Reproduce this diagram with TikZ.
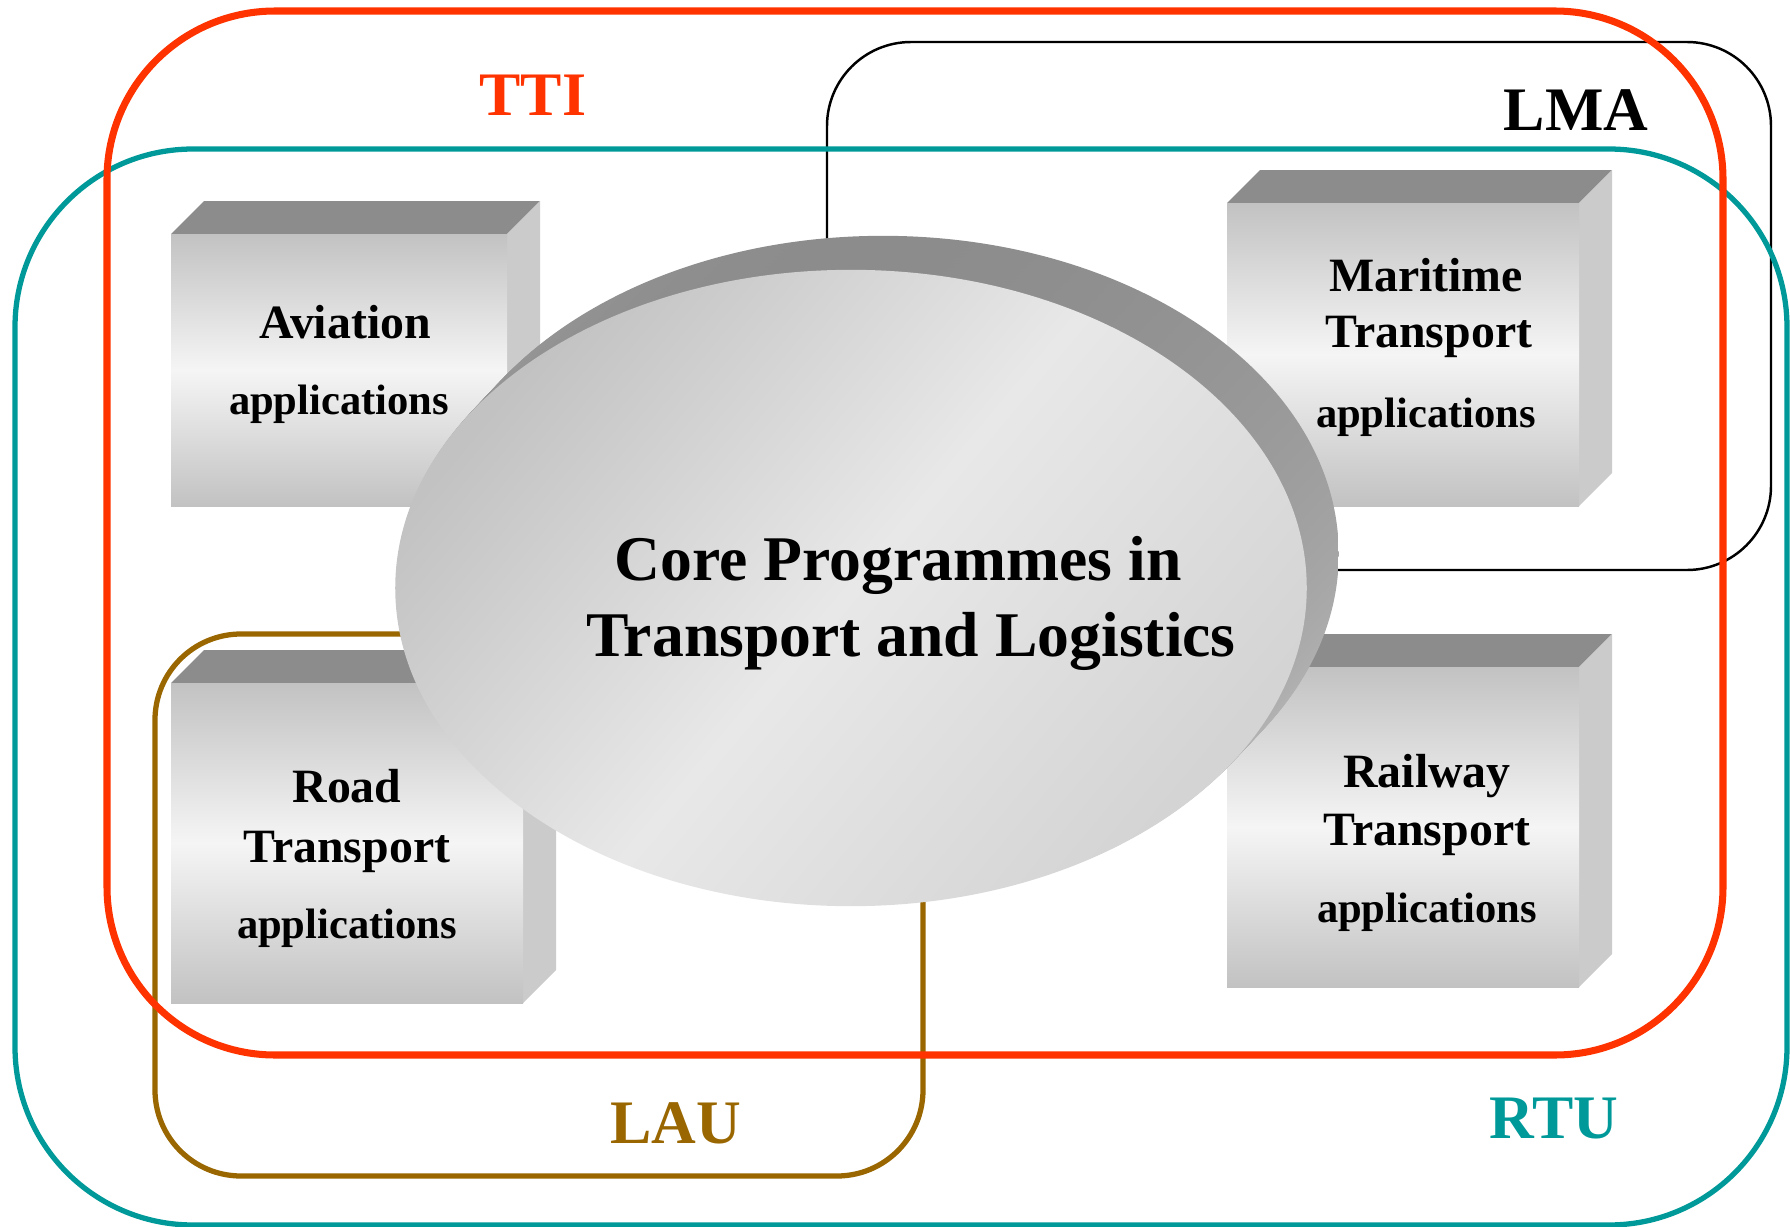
\documentclass[tikz,border=0pt]{standalone}
\usepackage{fontspec}
\setmainfont{Liberation Serif}

\definecolor{ttired}{HTML}{FF3300}
\definecolor{rtuteal}{HTML}{009999}
\definecolor{laubrown}{HTML}{996600}
\definecolor{boxtop}{HTML}{8C8C8C}
\definecolor{boxside}{HTML}{CBCBCB}
\definecolor{boxedge}{HTML}{C2C2C2}
\definecolor{boxmid}{HTML}{F5F5F5}

\tikzset{
  lbl/.style={font=\fontsize{17.6}{20}\selectfont\bfseries,anchor=base,inner sep=0pt},
  boxbig/.style={font=\fontsize{13.6}{16}\selectfont\bfseries,anchor=base,inner sep=0pt},
  boxsmall/.style={font=\fontsize{12.1}{14}\selectfont\bfseries,anchor=base,inner sep=0pt},
  corebig/.style={font=\fontsize{18.1}{22}\selectfont\bfseries,anchor=base,inner sep=0pt},
  frontface/.style={top color=boxedge,bottom color=boxedge,middle color=boxmid},
  coreside/.style={top color=boxtop,bottom color=black!25},
  coreface/.style={left color=black!24,right color=black!17,middle color=black!9,shading angle=50}
}

\begin{document}
\begin{tikzpicture}[x=0.01cm,y=-0.01cm]
\useasboundingbox (0,0) rectangle (1790,1227);

% partner frames
\draw[black,line width=0.7pt,rounded corners=0.84cm] (827,42) rectangle (1771,570);
\draw[laubrown,line width=1.5pt,rounded corners=0.86cm] (155,634) rectangle (923,1176);
\draw[rtuteal,line width=1.5pt,rounded corners=1.78cm] (15,149) rectangle (1787,1225);
\draw[ttired,line width=2pt,rounded corners=1.68cm] (107,11) rectangle (1723,1055);

\node[lbl,ttired] (tti) at (533,115) {TTI};
\node[lbl] (lma) at (1576,130) {LMA};
\node[lbl,laubrown] (lau) at (676,1143) {LAU};
\node[lbl,rtuteal] (rtu) at (1554,1138) {RTU};

% application boxes
\foreach \l/\t/\r/\b in {171/234/507/506, 1227/203/1579/506, 171/683/523/1003, 1227/667/1579/987} {
  \fill[boxtop] (\l,\t) -- (\l+33,\t-33) -- (\r+33,\t-33) -- (\r,\t) -- cycle;
  \fill[boxside] (\r,\t) -- (\r+33,\t-33) -- (\r+33,\b-33) -- (\r,\b) -- cycle;
  \shade[frontface] (\l,\t) rectangle (\r,\b);
}

\node[boxbig] (avia) at (345,338) {Aviation};
\node[boxsmall] (aviaapp) at (339,414) {applications};
\node[boxbig] (mari) at (1426,291) {Maritime};
\node[boxbig] (maritr) at (1429,347) {Transport};
\node[boxsmall] (mariapp) at (1426,427) {applications};
\node[boxbig] (road) at (347,802) {Road};
\node[boxbig] (roadtr) at (347,862) {Transport};
\node[boxsmall] (roadapp) at (347,938) {applications};
\node[boxbig] (rail) at (1427,787) {Railway};
\node[boxbig] (railtr) at (1427,845) {Transport};
\node[boxsmall] (railapp) at (1427,922) {applications};

% core disc
\foreach \s in {24,23,...,1}
  \shade[coreside] (851+\s*32/24,588-\s*34/24) ellipse [x radius=4.555cm,y radius=3.18cm];
\shade[coreface] (851,588) ellipse [x radius=4.555cm,y radius=3.18cm];

\node[corebig] (core1) at (898,580) {Core Programmes in};
\node[corebig] (core2) at (911,656) {Transport and Logistics};
\end{tikzpicture}
\end{document}
